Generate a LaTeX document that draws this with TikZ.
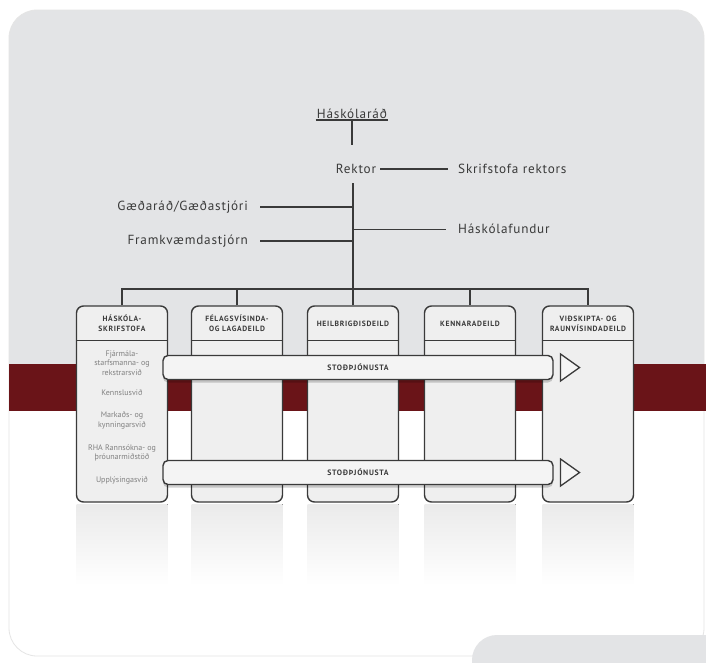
\documentclass[tikz,border=0pt]{standalone}
\usepackage{fontspec}
\setmainfont{PT Sans}
\newfontfamily\treefont[LetterSpace=6]{PT Sans}
\newfontfamily\capsfont[LetterSpace=9]{PT Sans}
\usetikzlibrary{shadows,shapes.geometric}
\definecolor{panelgray}{HTML}{E3E4E6}
\definecolor{bandred}{HTML}{6A1418}
\definecolor{colfill}{HTML}{EFEFEF}
\definecolor{ink}{HTML}{3A3A3A}
\definecolor{softink}{HTML}{808080}
\begin{document}
\begin{tikzpicture}[x=1pt,y=-1pt,
  treetxt/.style={font=\treefont\fontsize{13.2}{15}\selectfont, text=ink, inner sep=1pt},
  treeline/.style={draw=ink, line width=1.7pt},
  thinline/.style={draw=ink, line width=1pt},
  colbox/.style={draw=ink, line width=1.4pt, fill=colfill, rounded corners=7pt,
    minimum width=91pt, minimum height=196pt, inner sep=0pt},
  headtxt/.style={font=\capsfont\fontsize{7.6}{10}\selectfont\bfseries, text=ink, align=center, inner sep=0pt},
  itemtxt/.style={font=\fontsize{8}{9.8}\selectfont, text=softink, align=center, inner sep=0pt},
  barbox/.style={draw=ink, line width=1.4pt, fill=colfill!70!white, rounded corners=5pt,
    minimum width=390pt, minimum height=24pt, inner sep=0pt,
    font=\capsfont\fontsize{7.8}{9}\selectfont\bfseries, text=ink,
    drop shadow={shadow xshift=0pt, shadow yshift=-3pt, opacity=0.18, fill=black}},
  arrowtri/.style={isosceles triangle, isosceles triangle stretches, draw=ink, line width=1.3pt,
    fill=colfill!60!white, minimum height=19pt, minimum width=27pt, inner sep=0pt},
  reflect/.style={top color=black!8, bottom color=white, draw=none}
]
\useasboundingbox (0,0) rectangle (706,662);
% background panel
\fill[white] (0,0) rectangle (706,662);
\begin{scope}
  \clip (0,0) rectangle (706,364);
  \fill[panelgray, rounded corners=28pt] (9,10) rectangle (704,520);
\end{scope}
\draw[black!10, line width=0.8pt, rounded corners=28pt] (9,10) rectangle (704,656);
\begin{scope}
  \clip (0,0) rectangle (706,662);
  \fill[panelgray, rounded corners=25pt] (472,635) rectangle (760,720);
\end{scope}
% red band
\fill[bandred] (9,364) rectangle (706,411);
% reflections
\foreach \cx in {122,237,353,470,588}{
  \fill[reflect] (\cx-45.5,504) rectangle (\cx+45.5,585);
}
% tree
\node[treetxt] (hr) at (352,114) {Háskólaráð};
\draw[treeline] (hr.south west) -- (hr.south east);
\coordinate (hrdrop) at (352,145);
\draw[treeline] (hr.south) -- (hrdrop);
\node[treetxt] (rek) at (356,169) {Rektor};
\node[treetxt, anchor=west] (skr) at (457,169) {Skrifstofa rektors};
\draw[treeline, shorten <=3pt, shorten >=9pt] (rek) -- (skr);
\coordinate (spinetop) at (353,183);
\coordinate (bus) at (353,289);
\draw[treeline] (spinetop) -- (bus);
\node[treetxt, anchor=east] (gae) at (249,207) {Gæðaráð/Gæðastjóri};
\coordinate (j1) at (353,207);
\draw[treeline, shorten <=11pt] (gae) -- (j1);
\node[treetxt, anchor=west] (hfu) at (457,229) {Háskólafundur};
\coordinate (j2) at (353,229);
\draw[thinline, shorten >=11pt] (j2) -- (hfu);
\node[treetxt, anchor=east] (fra) at (249,241) {Framkvæmdastjórn};
\coordinate (j3) at (353,241);
\draw[treeline, shorten <=11pt] (fra) -- (j3);
% columns
\node[colbox] (c1) at (122,404) {};
\node[colbox] (c2) at (237,404) {};
\node[colbox] (c3) at (353,404) {};
\node[colbox] (c4) at (470,404) {};
\node[colbox] (c5) at (588,404) {};
\foreach \c in {c1,c2,c3,c4,c5}{
  \draw[ink, line width=1.4pt] ([yshift=-35pt]\c.north west) -- ([yshift=-35pt]\c.north east);
}
\draw[treeline] (c1.north) |- (bus) -| (c5.north);
\draw[treeline] (c2.north) -- (c2.north |- bus);
\draw[treeline] (c3.north) -- (c3.north |- bus);
\draw[treeline] (c4.north) -- (c4.north |- bus);
\node[headtxt] (h1) at (122,323.5) {HÁSKÓLA-\\SKRIFSTOFA};
\node[headtxt] (h2) at (237,323.5) {FÉLAGSVÍSINDA-\\OG LAGADEILD};
\node[headtxt] (h3) at (353,323.5) {HEILBRIGÐISDEILD};
\node[headtxt] (h4) at (470,323.5) {KENNARADEILD};
\node[headtxt] (h5) at (588,323.5) {VIÐSKIPTA- OG\\RAUNVÍSINDADEILD};
% column 1 items
\node[itemtxt] (i1) at (122,363) {Fjármála-\\starfsmanna- og\\rekstrarsvið};
\node[itemtxt] (i2) at (122,393) {Kennslusvið};
\node[itemtxt] (i3) at (122,420.5) {Markaðs- og\\kynningarsvið};
\node[itemtxt] (i4) at (122,453) {RHA Rannsókna- og\\þróunarmiðstöð};
\node[itemtxt] (i5) at (122,480) {Upplýsingasvið};
% bars
\node[barbox] (s1) at (358,367.5) {STOÐÞJÓNUSTA};
\node[arrowtri] (t1) at (567.5,367.5) {};
\node[barbox] (s2) at (358,472.5) {STOÐÞJÓNUSTA};
\node[arrowtri] (t2) at (567.5,472.5) {};
\end{tikzpicture}
\end{document}
